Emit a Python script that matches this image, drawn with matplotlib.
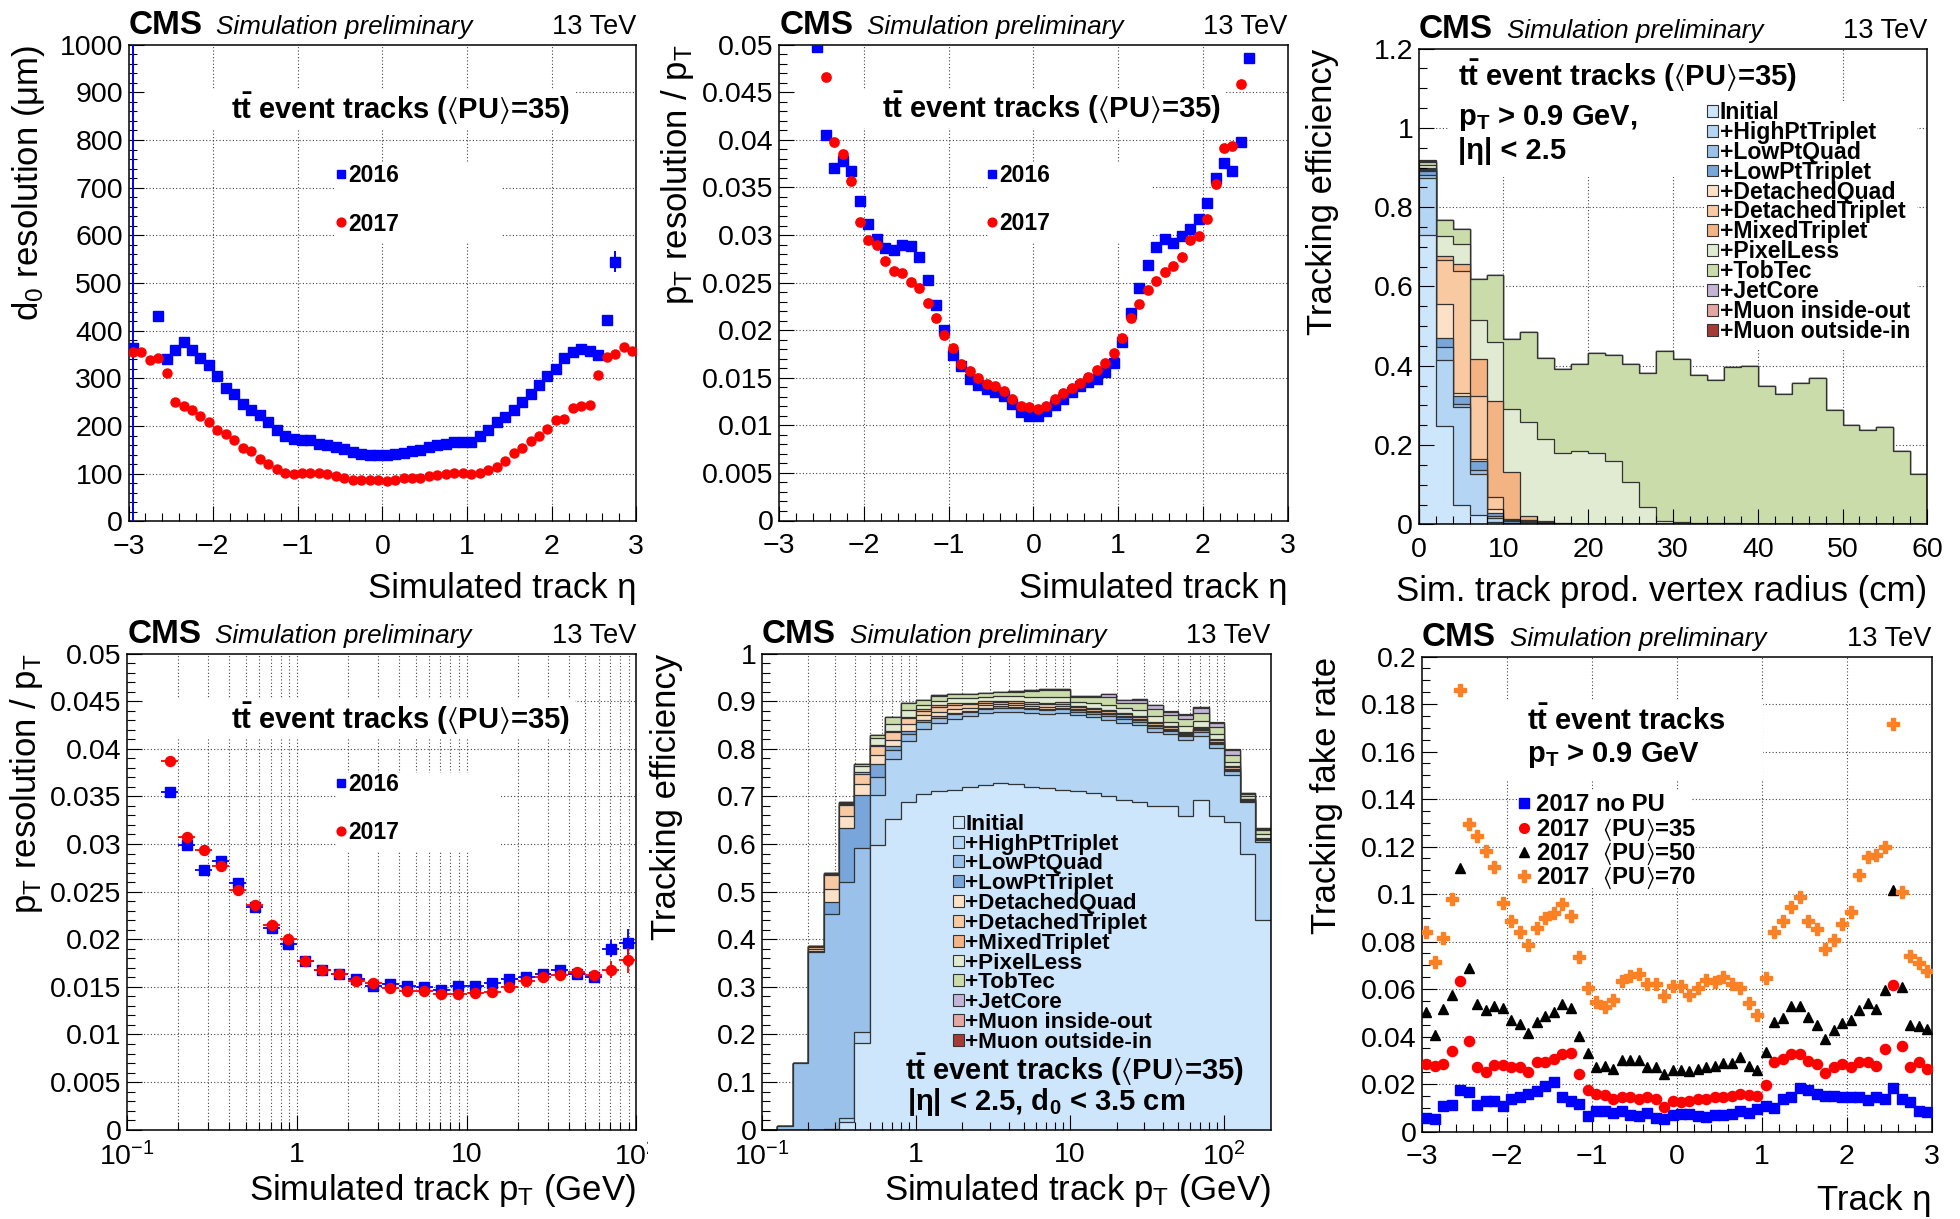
import numpy as np
import matplotlib
matplotlib.use("Agg")
import matplotlib.pyplot as plt
from matplotlib import ticker
from matplotlib.patches import Rectangle

plt.rcParams['font.family'] = ['Liberation Sans', 'DejaVu Sans']
plt.rcParams['mathtext.fontset'] = 'custom'
plt.rcParams['mathtext.rm'] = 'Liberation Sans'
plt.rcParams['mathtext.it'] = 'Liberation Sans:italic'
plt.rcParams['mathtext.bf'] = 'Liberation Sans:bold'
plt.rcParams['mathtext.default'] = 'regular'

nan = np.nan

# ---------------- data ----------------
# eta binning, 60 bins of 0.1
eta = np.round(np.arange(60) * 0.1 - 2.95, 2)

d0_2016 = [363, nan, nan, 431, 341, 359, 376, 359, 343, 328,
           304, 279, 268, 247, 234, 224, 208, 192, 178, 173,
           171, 171, 163, 161, 155, 151, 145, 141, 139, 139,
           140, 141, 143, 147, 149, 155, 161, 163, 166, 167,
           167, 180, 192, 208, 219, 233, 251, 268, 286, 304,
           320, 343, 355, 361, 358, 349, 423, 545, nan, nan]
d0_2016_err = [700, 0, 0, 8, 2, 2, 2, 2, 2, 1,
               1, 1, 1, 1, 1, 1, 1, 1, 1, 1,
               1, 1, 1, 1, 1, 1, 1, 1, 1, 1,
               1, 1, 1, 1, 1, 1, 1, 1, 1, 1,
               1, 1, 1, 1, 1, 1, 1, 1, 1, 1,
               2, 2, 2, 2, 2, 3, 6, 22, 0, 0]
d0_2017 = [355, 355, 339, 343, 312, 251, 241, 234, 220, 208,
           192, 184, 171, 153, 147, 131, 120, 110, 102, 100,
           102, 102, 102, 100, 94, 90, 87, 87, 87, 86,
           84, 86, 90, 90, 90, 96, 98, 100, 102, 102,
           100, 102, 108, 114, 127, 143, 153, 169, 180, 193,
           212, 215, 238, 242, 245, 306, 345, 351, 365, 358]

ptres_eta_2016 = [nan, nan, nan, nan, 0.0498, 0.0405, 0.0370, 0.0378, 0.0367, 0.0336,
                  0.0312, 0.0296, 0.0286, 0.0284, 0.0289, 0.0288, 0.0277, 0.0253, 0.0226, 0.0200,
                  0.0174, 0.0162, 0.0149, 0.0142, 0.0138, 0.0135, 0.0131, 0.0122, 0.0114, 0.0110,
                  0.0110, 0.0115, 0.0121, 0.0128, 0.0135, 0.0141, 0.0146, 0.0149, 0.0156, 0.0166,
                  0.0188, 0.0218, 0.0244, 0.0268, 0.0287, 0.0296, 0.0292, 0.0299, 0.0306, 0.0317,
                  0.0334, 0.0360, 0.0376, 0.0367, 0.0398, 0.0486, nan, nan, nan, nan]
ptres_eta_2017 = [nan, nan, nan, nan, nan, 0.0466, 0.0398, 0.0385, 0.0357, 0.0314,
                  0.0295, 0.0289, 0.0273, 0.0262, 0.0260, 0.0251, 0.0244, 0.0229, 0.0213, 0.0195,
                  0.0181, 0.0164, 0.0157, 0.0150, 0.0143, 0.0141, 0.0136, 0.0128, 0.0120, 0.0119,
                  0.0117, 0.0120, 0.0128, 0.0134, 0.0139, 0.0144, 0.0151, 0.0158, 0.0166, 0.0176,
                  0.0192, 0.0213, 0.0227, 0.0242, 0.0252, 0.0261, 0.0267, 0.0277, 0.0295, 0.0299,
                  0.0317, 0.0354, 0.0391, 0.0394, 0.0459, nan, nan, nan, nan, nan]

# pT resolution vs pT, 28 log bins of 0.1 decade starting at 10^-0.8
ptres_pt_2016 = [0.0355, 0.0299, 0.0273, 0.0282, 0.0259, 0.0234, 0.0212, 0.0195, 0.0177, 0.0168,
                 0.0164, 0.0158, 0.0151, 0.0153, 0.0151, 0.0150, 0.0147, 0.0151, 0.0151, 0.0154,
                 0.0158, 0.0160, 0.0163, 0.0168, 0.0164, 0.0160, 0.0190, 0.0196]
ptres_pt_2016_err = [0.0002, 0.0002, 0.0002, 0.0002, 0.0002, 0.0002, 0.0002, 0.0002, 0.0002, 0.0002,
                     0.0002, 0.0002, 0.0002, 0.0002, 0.0002, 0.0002, 0.0002, 0.0002, 0.0002, 0.0002,
                     0.0002, 0.0002, 0.0003, 0.0003, 0.0004, 0.0005, 0.0009, 0.0015]
ptres_pt_2017 = [0.0387, 0.0307, 0.0294, 0.0277, 0.0252, 0.0236, 0.0215, 0.0200, 0.0177, 0.0168,
                 0.0164, 0.0156, 0.0154, 0.0149, 0.0146, 0.0146, 0.0143, 0.0143, 0.0144, 0.0145,
                 0.0150, 0.0156, 0.0160, 0.0162, 0.0166, 0.0162, 0.0168, 0.0178]
ptres_pt_2017_err = [0.0002, 0.0002, 0.0002, 0.0002, 0.0002, 0.0002, 0.0002, 0.0002, 0.0002, 0.0002,
                     0.0002, 0.0002, 0.0002, 0.0002, 0.0002, 0.0002, 0.0002, 0.0002, 0.0002, 0.0002,
                     0.0002, 0.0002, 0.0003, 0.0003, 0.0004, 0.0005, 0.0009, 0.0013]

iterations = ['Initial', '+HighPtTriplet', '+LowPtQuad', '+LowPtTriplet', '+DetachedQuad',
              '+DetachedTriplet', '+MixedTriplet', '+PixelLess', '+TobTec', '+JetCore',
              '+Muon inside-out', '+Muon outside-in']
iter_colors = ['#cde6fc', '#b4d5f4', '#99c1e9', '#78a6da', '#fde1c6', '#f9c9a2',
               '#f4b383', '#e1ebd2', '#cbdcab', '#c4b4d6', '#e4a6a3', '#a63b35']

# efficiency gain per iteration vs production vertex radius, 30 bins of 2 cm
r_initial = [0.730, 0.248, 0.049, 0.023, 0.005, 0, 0, 0, 0, 0, 0, 0, 0, 0, 0,
             0, 0, 0, 0, 0, 0, 0, 0, 0, 0, 0, 0, 0, 0, 0]
r_highpt = [0.143, 0.167, 0.246, 0.105, 0.010, 0.002, 0.002, 0.001, 0, 0, 0, 0, 0, 0, 0,
            0, 0, 0, 0, 0, 0, 0, 0, 0, 0, 0, 0, 0, 0, 0]
r_lowptquad = [0.008, 0.033, 0.008, 0.010, 0.005, 0.002, 0, 0, 0, 0, 0, 0, 0, 0, 0,
               0, 0, 0, 0, 0, 0, 0, 0, 0, 0, 0, 0, 0, 0, 0]
r_lowpttrip = [0.010, 0.021, 0.022, 0.022, 0.008, 0.004, 0.004, 0.002, 0.001, 0, 0, 0, 0, 0, 0,
               0, 0, 0, 0, 0, 0, 0, 0, 0, 0, 0, 0, 0, 0, 0]
r_detquad = [0.002, 0.088, 0.007, 0.005, 0.012, 0.002, 0.002, 0.001, 0, 0, 0, 0, 0, 0, 0,
             0, 0, 0, 0, 0, 0, 0, 0, 0, 0, 0, 0, 0, 0, 0]
r_dettrip = [0.003, 0.110, 0.306, 0.158, 0.030, 0.003, 0.004, 0.002, 0.001, 0, 0, 0, 0, 0, 0,
             0, 0, 0, 0, 0, 0, 0, 0, 0, 0, 0, 0, 0, 0, 0]
r_mixed = [0.002, 0.010, 0.019, 0.094, 0.240, 0.119, 0.008, 0.003, 0.002, 0.001, 0, 0, 0, 0, 0,
           0, 0, 0, 0, 0, 0, 0, 0, 0, 0, 0, 0, 0, 0, 0]
r_pixelless = [0.008, 0.050, 0.049, 0.099, 0.150, 0.158, 0.238, 0.207, 0.176, 0.185, 0.180, 0.160,
               0.106, 0.044, 0.008, 0.005, 0.004, 0.003, 0.003, 0.002, 0.002, 0.002, 0.001, 0.001,
               0.001, 0.001, 0.001, 0.001, 0, 0]
r_tobtec = [0.008, 0.041, 0.038, 0.102, 0.169, 0.177, 0.226, 0.204, 0.211, 0.219, 0.252, 0.268,
            0.298, 0.339, 0.429, 0.413, 0.372, 0.360, 0.394, 0.398, 0.346, 0.328, 0.355, 0.368,
            0.287, 0.249, 0.236, 0.245, 0.186, 0.128]
r_jetcore = [0.002, 0, 0, 0, 0, 0, 0, 0, 0, 0, 0, 0, 0, 0, 0,
             0, 0, 0, 0, 0, 0, 0, 0, 0, 0, 0, 0, 0, 0, 0]
r_muon_io = [0.001, 0, 0, 0, 0, 0, 0, 0, 0, 0, 0, 0, 0, 0, 0,
             0, 0, 0, 0, 0, 0, 0, 0, 0, 0, 0, 0, 0, 0, 0]
r_muon_oi = [0.001, 0, 0, 0, 0, 0, 0, 0, 0, 0, 0, 0, 0, 0, 0,
             0, 0, 0, 0, 0, 0, 0, 0, 0, 0, 0, 0, 0, 0, 0]

# efficiency gain per iteration vs pT, 33 log bins of 0.1 decade from 0.1 GeV
p_initial = [0, 0, 0, 0, 0, 0.016, 0.183, 0.598, 0.653, 0.689, 0.704, 0.712, 0.714, 0.720, 0.724,
             0.728, 0.726, 0.720, 0.718, 0.714, 0.712, 0.708, 0.701, 0.692, 0.688, 0.679, 0.679,
             0.659, 0.692, 0.659, 0.647, 0.580, 0.441]
p_highpt = [0, 0, 0, 0, 0.002, 0.008, 0.023, 0.104, 0.125, 0.128, 0.137, 0.143, 0.149, 0.149, 0.151,
            0.150, 0.151, 0.155, 0.155, 0.161, 0.159, 0.159, 0.160, 0.163, 0.161, 0.157, 0.151,
            0.159, 0.134, 0.143, 0.098, 0.108, 0.163]
p_lowptquad = [0, 0.007, 0.141, 0.373, 0.452, 0.497, 0.385, 0.039, 0.020, 0.014, 0.016, 0.010, 0.009,
               0.008, 0.008, 0.008, 0.008, 0.008, 0.008, 0.008, 0.007, 0.007, 0.008, 0.008, 0.008,
               0.008, 0.007, 0.008, 0.010, 0.008, 0.008, 0.003, 0.004]
p_lowpttrip = [0, 0, 0, 0.003, 0.025, 0.112, 0.111, 0.026, 0.007, 0.007, 0.003, 0.004, 0.004, 0.003,
               0.003, 0.003, 0.003, 0.003, 0.003, 0.003, 0.003, 0.003, 0.003, 0.003, 0.003, 0.003,
               0.003, 0.003, 0.003, 0.003, 0.003, 0.001, 0.001]
p_detquad = [0, 0, 0, 0.003, 0.026, 0.026, 0.023, 0.019, 0.014, 0.014, 0.011, 0.008, 0.007, 0.006,
             0.005, 0.004, 0.004, 0.004, 0.004, 0.004, 0.003, 0.003, 0.003, 0.003, 0.003, 0.003,
             0.002, 0.002, 0.002, 0.002, 0.002, 0.001, 0.001]
p_dettrip = [0, 0, 0, 0.004, 0.030, 0.022, 0.023, 0.019, 0.016, 0.012, 0.009, 0.010, 0.009, 0.007,
             0.006, 0.005, 0.005, 0.005, 0.005, 0.005, 0.004, 0.004, 0.004, 0.004, 0.004, 0.004,
             0.003, 0.003, 0.003, 0.003, 0.003, 0.001, 0.001]
p_mixed = [0, 0, 0, 0.003, 0.003, 0.003, 0.003, 0.003, 0.003, 0.003, 0.004, 0.004, 0.004, 0.003,
           0.003, 0.003, 0.003, 0.003, 0.003, 0.003, 0.002, 0.002, 0.002, 0.002, 0.002, 0.002,
           0.002, 0.002, 0.002, 0.002, 0.002, 0.001, 0.001]
p_pixelless = [0, 0, 0, 0, 0.001, 0.003, 0.013, 0.015, 0.015, 0.014, 0.008, 0.010, 0.010, 0.010,
               0.009, 0.009, 0.010, 0.011, 0.012, 0.011, 0.009, 0.010, 0.011, 0.010, 0.012, 0.012,
               0.010, 0.011, 0.012, 0.010, 0.010, 0.005, 0.008]
p_tobtec = [0, 0, 0, 0, 0, 0.001, 0.003, 0.006, 0.014, 0.016, 0.010, 0.010, 0.009, 0.009, 0.008,
            0.009, 0.010, 0.012, 0.015, 0.014, 0.010, 0.012, 0.016, 0.012, 0.015, 0.016, 0.013,
            0.015, 0.018, 0.015, 0.014, 0.005, 0.010]
p_jetcore = [0, 0, 0, 0, 0, 0, 0, 0, 0, 0, 0, 0.001, 0.001, 0.001, 0.001, 0.001, 0.002, 0.002,
             0.002, 0.002, 0.002, 0.003, 0.008, 0.006, 0.007, 0.007, 0.007, 0.008, 0.010, 0.009,
             0.010, 0.002, 0.002]
p_muon_io = [0, 0, 0, 0, 0, 0, 0, 0, 0, 0, 0, 0, 0, 0, 0, 0, 0, 0, 0, 0, 0, 0, 0, 0,
             0.001, 0.001, 0.001, 0.001, 0.001, 0.001, 0.001, 0.001, 0.001]
p_muon_oi = [0, 0, 0, 0, 0, 0, 0, 0, 0, 0, 0, 0, 0, 0, 0, 0, 0, 0, 0, 0, 0, 0, 0, 0,
             0, 0, 0.001, 0.001, 0.001, 0.001, 0.001, 0, 0]

# fake rate vs eta
fake_nopu = [0.0057, 0.0054, 0.0106, 0.0114, 0.0177, 0.0168, 0.0114, 0.0128, 0.0128, 0.0106,
             0.0139, 0.0144, 0.0160, 0.0172, 0.0193, 0.0209, 0.0147, 0.0128, 0.0116, 0.0065,
             0.0087, 0.0087, 0.0078, 0.0087, 0.0070, 0.0065, 0.0078, 0.0057, 0.0054, 0.0070,
             0.0074, 0.0074, 0.0065, 0.0062, 0.0070, 0.0070, 0.0075, 0.0087, 0.0078, 0.0095,
             0.0108, 0.0098, 0.0136, 0.0144, 0.0182, 0.0177, 0.0160, 0.0149, 0.0149, 0.0144,
             0.0147, 0.0144, 0.0131, 0.0147, 0.0139, 0.0185, 0.0139, 0.0123, 0.0087, 0.0082]
fake_pu35 = [0.0286, 0.0278, 0.0286, 0.0340, 0.0635, 0.0381, 0.0271, 0.0253, 0.0280, 0.0280,
             0.0270, 0.0270, 0.0250, 0.0291, 0.0294, 0.0304, 0.0327, 0.0332, 0.0242, 0.0177,
             0.0160, 0.0155, 0.0139, 0.0144, 0.0144, 0.0139, 0.0144, 0.0136, 0.0103, 0.0128,
             0.0123, 0.0128, 0.0139, 0.0139, 0.0144, 0.0147, 0.0149, 0.0160, 0.0155, 0.0152,
             0.0198, 0.0294, 0.0307, 0.0327, 0.0327, 0.0296, 0.0286, 0.0247, 0.0270, 0.0286,
             0.0270, 0.0294, 0.0291, 0.0275, 0.0348, 0.0618, 0.0360, 0.0270, 0.0291, 0.0262]
fake_pu50 = [0.0504, 0.0406, 0.0515, 0.0577, 0.1109, 0.0688, 0.0536, 0.0512, 0.0528, 0.0520,
             0.0471, 0.0455, 0.0417, 0.0463, 0.0487, 0.0504, 0.0536, 0.0520, 0.0402, 0.0332,
             0.0270, 0.0275, 0.0262, 0.0303, 0.0303, 0.0303, 0.0270, 0.0270, 0.0242, 0.0258,
             0.0258, 0.0255, 0.0262, 0.0271, 0.0278, 0.0288, 0.0288, 0.0316, 0.0275, 0.0258,
             0.0335, 0.0463, 0.0479, 0.0528, 0.0528, 0.0482, 0.0450, 0.0389, 0.0427, 0.0458,
             0.0468, 0.0512, 0.0540, 0.0517, 0.0597, 0.1016, 0.0610, 0.0450, 0.0443, 0.0430]
fake_pu70 = [0.0839, 0.0713, 0.0814, 0.0978, 0.1858, 0.1297, 0.1243, 0.1182, 0.1114, 0.0962,
             0.0888, 0.0839, 0.0787, 0.0859, 0.0901, 0.0921, 0.0957, 0.0909, 0.0736, 0.0605,
             0.0545, 0.0525, 0.0556, 0.0635, 0.0654, 0.0664, 0.0621, 0.0621, 0.0569, 0.0613,
             0.0613, 0.0574, 0.0605, 0.0638, 0.0630, 0.0651, 0.0623, 0.0605, 0.0541, 0.0492,
             0.0646, 0.0839, 0.0888, 0.0945, 0.0989, 0.0888, 0.0855, 0.0769, 0.0806, 0.0875,
             0.0926, 0.1081, 0.1158, 0.1163, 0.1199, 0.1717, 0.1007, 0.0738, 0.0708, 0.0675]

TTBAR = r'$t\bar{t}$ event tracks'
PU35 = r'($\langle$PU$\rangle$=35)'

# ---------------- helpers ----------------
W, H = 1960, 1219
fig = plt.figure(figsize=(W / 100, H / 100), dpi=100)

GRID = dict(color='#444444', linestyle=(0, (1, 2)), linewidth=0.8, zorder=0.5)


def panel(left, top, right, bottom):
    ax = fig.add_axes([left / W, 1 - bottom / H, (right - left) / W, (bottom - top) / H])
    ax.set_axisbelow(False)
    for s in ax.spines.values():
        s.set_linewidth(1.1)
    ax.tick_params(which='both', direction='in', top=False, right=False, width=0.8)
    ax.tick_params(which='major', length=10.5, labelsize=20.5)
    ax.tick_params(which='minor', length=5.5)
    ax.tick_params(axis='x', pad=9)
    ax.tick_params(axis='y', pad=4)
    return ax


def fmt(v, pos=None):
    return f'{v:g}'.replace('-', '\u2212')


def linear_axis(axis, lo, hi, major, nminor):
    ticks = np.round(np.arange(lo, hi + major / 2, major), 6)
    axis.set_major_locator(ticker.FixedLocator(ticks))
    axis.set_minor_locator(ticker.AutoMinorLocator(nminor))
    axis.set_major_formatter(ticker.FuncFormatter(fmt))
    return ticks


def log_axis(ax):
    ax.set_xscale('log')
    ax.xaxis.set_major_locator(ticker.FixedLocator([0.1, 1, 10, 100]))
    ax.xaxis.set_major_formatter(ticker.FixedFormatter([r'$10^{-1}$', '1', '10', r'$10^{2}$']))
    ax.xaxis.set_minor_locator(ticker.LogLocator(base=10, subs=np.arange(2, 10), numticks=30))
    ax.xaxis.set_minor_formatter(ticker.NullFormatter())


def grid(ax, xs, ys):
    x0, x1 = ax.get_xlim()
    y0, y1 = ax.get_ylim()
    for x in xs:
        if x0 < x < x1:
            ax.axvline(x, **GRID)
    for y in ys:
        if y0 < y < y1:
            ax.axhline(y, **GRID)


def header(ax):
    kw = dict(transform=ax.transAxes, va='baseline')
    ax.text(0, 1.0225, 'CMS', fontsize=24, fontweight='bold', ha='left', **kw)
    ax.text(0.173, 1.0225, 'Simulation preliminary', fontsize=18.8, style='italic', ha='left', **kw)
    ax.text(1, 1.0225, '13 TeV', fontsize=19.5, ha='right', **kw)


def titles(ax, xlabel, ylabel, xoff, yoff):
    ax.text(1, xoff, xlabel, transform=ax.transAxes, ha='right', va='baseline', fontsize=25)
    ax.text(yoff, 1, ylabel, transform=ax.transAxes, rotation=90, rotation_mode='anchor',
            ha='right', va='baseline', fontsize=25)


def blank(ax, x0, y0, x1, y1):
    ax.add_patch(Rectangle((x0, y0), x1 - x0, y1 - y0, transform=ax.transAxes,
                           facecolor='white', edgecolor='none', zorder=1.8))


def marker_key(ax, x, y, label, fs=16.5, dx=0.014, **style):
    ax.plot([x], [y], transform=ax.transAxes, linestyle='none', clip_on=False, zorder=5, **style)
    ax.text(x + dx, y - 0.017, label, transform=ax.transAxes, va='baseline', ha='left',
            fontsize=fs, fontweight='bold', zorder=5)


def box_legend(ax, x, y0, step, w, h, fs=16.4):
    for i, (lab, col) in enumerate(zip(iterations, iter_colors)):
        y = y0 - i * step
        ax.add_patch(Rectangle((x, y - h / 2), w, h, transform=ax.transAxes, facecolor=col,
                               edgecolor='#333333', linewidth=0.8, zorder=5))
        ax.text(x + w + 0.003, y - 0.017, lab, transform=ax.transAxes, va='baseline',
                ha='left', fontsize=fs, fontweight='bold', zorder=5)


def stacked(ax, edges, comps):
    cum = np.cumsum(np.array(comps, dtype=float), axis=0)
    n = len(comps)
    for j in reversed(range(n)):
        ax.stairs(cum[j], edges, fill=True, facecolor=iter_colors[j], edgecolor='#333333',
                  linewidth=0.9, zorder=1.0 + (n - j) * 0.01)


def eta_axes(ax):
    ax.set_xlim(-3, 3)
    return linear_axis(ax.xaxis, -3, 3, 1, 5)


# ---------------- top left: d0 resolution vs eta ----------------
ax1 = panel(128.5, 44.7, 636.3, 521.3)
xt = eta_axes(ax1)
ax1.set_ylim(0, 1000)
yt = linear_axis(ax1.yaxis, 0, 1000, 100, 5)
grid(ax1, xt, yt)
ax1.errorbar(eta, d0_2016, yerr=d0_2016_err, fmt='s', ms=6.8, color='#0000ff', ecolor='#0000ff',
             elinewidth=1.4, capsize=0, zorder=3)
ax1.plot(eta, d0_2017, 'o', ms=6.5, color='#ff0000', zorder=3.1)
blank(ax1, 0.029, 0.824, 0.881, 0.906)
blank(ax1, 0.409, 0.584, 0.736, 0.752)
ax1.text(0.535, 0.845, TTBAR + ' ' + PU35, transform=ax1.transAxes, ha='center',
         va='baseline', fontsize=21, fontweight='bold', zorder=5)
marker_key(ax1, 0.418, 0.729, '2016', marker='s', ms=6.3, color='#0000ff')
marker_key(ax1, 0.418, 0.627, '2017', marker='o', ms=6.3, color='#ff0000')
header(ax1)
titles(ax1, 'Simulated track η', r'd$_{0}$ resolution (μm)', -0.16, -0.178)

# ---------------- top middle: pT resolution vs eta ----------------
ax2 = panel(779.3, 44.7, 1287.5, 520.5)
xt = eta_axes(ax2)
ax2.set_ylim(0, 0.05)
yt = linear_axis(ax2.yaxis, 0, 0.05, 0.005, 5)
grid(ax2, xt, yt)
ax2.plot(eta, ptres_eta_2016, 's', ms=7, color='#0000ff', zorder=3)
ax2.plot(eta, ptres_eta_2017, 'o', ms=6.7, color='#ff0000', zorder=3.1)
blank(ax2, 0.027, 0.824, 0.879, 0.906)
blank(ax2, 0.411, 0.584, 0.733, 0.752)
ax2.text(0.536, 0.845, TTBAR + ' ' + PU35, transform=ax2.transAxes, ha='center',
         va='baseline', fontsize=21, fontweight='bold', zorder=5)
marker_key(ax2, 0.4185, 0.728, '2016', marker='s', ms=6.3, color='#0000ff')
marker_key(ax2, 0.4185, 0.627, '2017', marker='o', ms=6.3, color='#ff0000')
header(ax2)
titles(ax2, 'Simulated track η', r'p$_{T}$ resolution / p$_{T}$', -0.163, -0.181)

# ---------------- top right: efficiency vs production radius ----------------
ax3 = panel(1418.7, 48.6, 1927.3, 524.4)
r_edges = np.arange(0, 62, 2)
ax3.set_xlim(0, 60)
ax3.set_ylim(0, 1.2)
xt = linear_axis(ax3.xaxis, 0, 60, 10, 5)
yt = linear_axis(ax3.yaxis, 0, 1.2, 0.2, 4)
grid(ax3, xt, yt)
stacked(ax3, r_edges, [r_initial, r_highpt, r_lowptquad, r_lowpttrip, r_detquad, r_dettrip,
                       r_mixed, r_pixelless, r_tobtec, r_jetcore, r_muon_io, r_muon_oi])
blank(ax3, 0.058, 0.73, 0.75, 0.999)
blank(ax3, 0.561, 0.37, 0.979, 0.89)
tkw = dict(transform=ax3.transAxes, ha='left', va='baseline', fontsize=21, fontweight='bold', zorder=5)
ax3.text(0.077, 0.922, TTBAR + ' ' + PU35, **tkw)
ax3.text(0.077, 0.840, r'p$_{T}$ > 0.9 GeV,', **tkw)
ax3.text(0.077, 0.767, '|η| < 2.5', **tkw)
box_legend(ax3, 0.567, 0.869, 0.0418, 0.0216, 0.0246, fs=16.6)
header(ax3)
titles(ax3, 'Sim. track prod. vertex radius (cm)', 'Tracking efficiency', -0.162, -0.171)

# ---------------- bottom left: pT resolution vs pT ----------------
ax4 = panel(127.3, 653.5, 636.3, 1129.7)
log_axis(ax4)
ax4.set_xlim(0.1, 100)
ax4.set_ylim(0, 0.05)
yt = linear_axis(ax4.yaxis, 0, 0.05, 0.005, 5)
grid(ax4, [m * 10.0 ** e for e in (-1, 0, 1) for m in range(1, 10)], yt)
pt_log = np.arange(28) * 0.1 - 0.75
pt_c = 10 ** pt_log
pt_xerr = [pt_c - 10 ** (pt_log - 0.05), 10 ** (pt_log + 0.05) - pt_c]
ax4.errorbar(pt_c, ptres_pt_2016, xerr=pt_xerr, yerr=ptres_pt_2016_err, fmt='s', ms=7.2,
             color='#0000ff', elinewidth=1.3, capsize=0, zorder=3)
ax4.errorbar(pt_c, ptres_pt_2017, xerr=pt_xerr, yerr=ptres_pt_2017_err, fmt='o', ms=7.2,
             color='#ff0000', elinewidth=1.3, capsize=0, zorder=3.1)
blank(ax4, 0.03, 0.822, 0.88, 0.905)
blank(ax4, 0.41, 0.585, 0.735, 0.75)
ax4.text(0.536, 0.8425, TTBAR + ' ' + PU35, transform=ax4.transAxes, ha='center',
         va='baseline', fontsize=21, fontweight='bold', zorder=5)
marker_key(ax4, 0.42, 0.7285, '2016', marker='s', ms=6.3, color='#0000ff')
marker_key(ax4, 0.42, 0.628, '2017', marker='o', ms=6.3, color='#ff0000')
header(ax4)
titles(ax4, r'Simulated track p$_{T}$ (GeV)', r'p$_{T}$ resolution / p$_{T}$', -0.147, -0.179)

# ---------------- bottom middle: efficiency vs pT ----------------
ax5 = panel(761.9, 653.5, 1270.5, 1129.7)
log_axis(ax5)
pt_edges = 10 ** (np.arange(34) * 0.1 - 1.0)
ax5.set_xlim(0.1, pt_edges[-1])
ax5.set_ylim(0, 1.0)
yt = linear_axis(ax5.yaxis, 0, 1.0, 0.1, 5)
grid(ax5, [m * 10.0 ** e for e in (-1, 0, 1, 2) for m in range(1, 10)], yt)
stacked(ax5, pt_edges, [p_initial, p_highpt, p_lowptquad, p_lowpttrip, p_detquad, p_dettrip,
                        p_mixed, p_pixelless, p_tobtec, p_jetcore, p_muon_io, p_muon_oi])
box_legend(ax5, 0.375, 0.6467, 0.04164, 0.0216, 0.025, fs=16.2)
tkw = dict(transform=ax5.transAxes, ha='left', va='baseline', fontsize=21, fontweight='bold', zorder=5)
ax5.text(0.281, 0.1046, TTBAR + ' ' + PU35, **tkw)
ax5.text(0.285, 0.0415, r'|η| < 2.5, d$_{0}$ < 3.5 cm', **tkw)
header(ax5)
titles(ax5, r'Simulated track p$_{T}$ (GeV)', 'Tracking efficiency', -0.147, -0.169)

# ---------------- bottom right: fake rate vs eta ----------------
ax6 = panel(1422, 656.6, 1931.5, 1131.6)
xt = eta_axes(ax6)
ax6.set_ylim(0, 0.2)
yt = linear_axis(ax6.yaxis, 0, 0.2, 0.02, 4)
grid(ax6, xt, yt)
ax6.plot(eta, fake_nopu, 's', ms=7.5, color='#0000ff', zorder=3)
ax6.plot(eta, fake_pu35, 'o', ms=7.3, color='#ff0000', zorder=3.1)
ax6.plot(eta, fake_pu50, '^', ms=6.8, color='black', zorder=3.2)
ax6.plot(eta, fake_pu70, 'P', ms=8.3, color='#fb8124', zorder=3.3)
blank(ax6, 0.033, 0.738, 0.669, 0.906)
blank(ax6, 0.186, 0.516, 0.53, 0.718)
tkw = dict(transform=ax6.transAxes, ha='left', va='baseline', fontsize=21, fontweight='bold', zorder=5)
ax6.text(0.206, 0.845, TTBAR, **tkw)
ax6.text(0.206, 0.779, r'p$_{T}$ > 0.9 GeV', **tkw)
lkw = dict(fs=17.2, dx=0.022)
marker_key(ax6, 0.201, 0.692, '2017 no PU', marker='s', ms=7, color='#0000ff', **lkw)
marker_key(ax6, 0.201, 0.640, r'2017  $\langle$PU$\rangle$=35', marker='o', ms=7, color='#ff0000', **lkw)
marker_key(ax6, 0.201, 0.589, r'2017  $\langle$PU$\rangle$=50', marker='^', ms=6.5, color='black', **lkw)
marker_key(ax6, 0.201, 0.539, r'2017  $\langle$PU$\rangle$=70', marker='P', ms=8, color='#fb8124', **lkw)
header(ax6)
titles(ax6, 'Track η', 'Tracking fake rate', -0.165, -0.169)

# the bottom-left panel ends at its own edge; its last tick label is cut there
fig.add_artist(Rectangle((648 / W, 1 - 1190 / H), 45 / W, 55 / H, transform=fig.transFigure,
                         facecolor='white', edgecolor='none', zorder=10))

fig.savefig('out.png', dpi=100)
